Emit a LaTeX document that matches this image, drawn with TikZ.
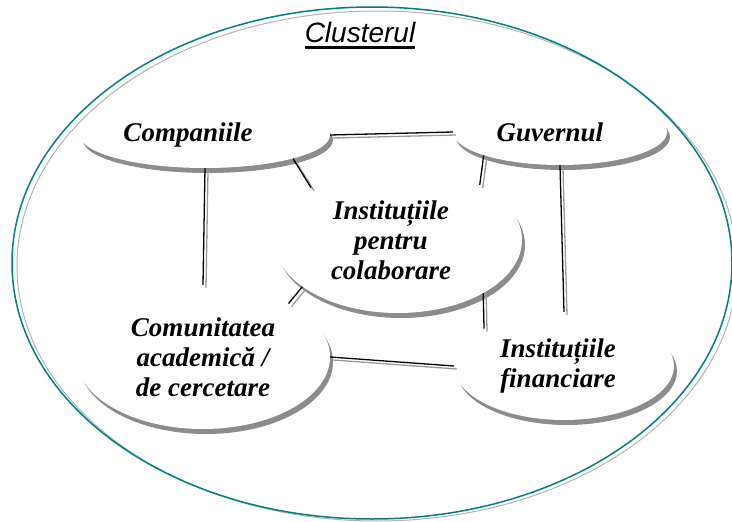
\documentclass[tikz,border=0pt]{standalone}
\usepackage{fontspec}
\setmainfont{Liberation Serif}
\newfontfamily\clusterfont{Liberation Sans}
\usetikzlibrary{shapes.geometric}
\usetikzlibrary{shadows}
\definecolor{tealc}{RGB}{0,128,128}
\begin{document}
\begin{tikzpicture}[x=1pt,y=-1pt,grp/.style={ellipse, fill=white, inner sep=0pt, align=center, font=\fontsize{27}{30}\selectfont\bfseries\itshape, drop shadow={shadow xshift=3pt, shadow yshift=-5pt, fill=black!45, opacity=1}},lk/.style={line width=1.3pt},lkg/.style={line width=1.3pt, draw=black!40, transform canvas={shift={(3pt,-3pt)}}}]
\useasboundingbox (0,0) rectangle (732,522);
\node (cli) at (377,266) [ellipse,draw=black!30,line width=1pt,minimum width=720pt,minimum height=510pt] {};
\node (cl) at (372,263) [ellipse,draw=tealc,line width=1.5pt,minimum width=720pt,minimum height=512pt] {};
\node (title) at (360,42) [anchor=base,inner sep=0pt] {\clusterfont\itshape\fontsize{28}{32}\selectfont Clusterul};
\draw[line width=2.5pt] ([yshift=-5.5pt]title.base west) -- ([yshift=-5.5pt]title.base east);
\node (comp) at (205,135) [grp,minimum width=250pt,minimum height=66pt] {\kern-34pt Companiile};
\node (guv) at (560,132) [grp,minimum width=214pt,minimum height=66pt] {\kern-20pt Guvernul};
\node (colab) at (398,240) [grp,minimum width=248pt,minimum height=146pt] {\kern-14pt Instituțiile\\\kern-14pt pentru\\\kern-14pt colaborare};
\node (com) at (203,357) [grp,minimum width=254pt,minimum height=144pt] {Comunitatea\\academică /\\de cercetare};
\node (fin) at (564,366) [grp,minimum width=220pt,minimum height=108pt] {\kern-12pt Instituțiile\\\kern-12pt financiare};
% double links
\foreach \a/\b in {comp.east/guv.west, comp.south/com.north, guv.south/fin.north, comp.-15/colab.149, guv.-163/colab.34, colab.206/com.32, colab.-32/fin.155, com.east/fin.west} {
\draw[lkg] (\a) -- (\b);
\draw[lk] (\a) -- (\b);
}
\end{tikzpicture}
\end{document}
